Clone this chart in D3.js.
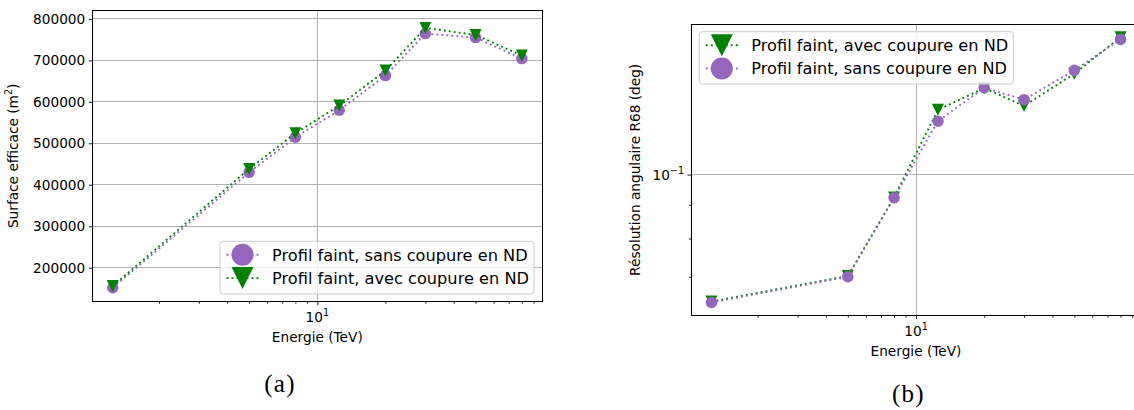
<!DOCTYPE html>
<html>
<head>
<meta charset="utf-8">
<script src="https://cdn.jsdelivr.net/npm/d3@7"></script>
<style>
  body { margin: 0; background: #ffffff; }
  svg { display: block; }
  text { font-family: "DejaVu Sans", sans-serif; fill: #000; }
</style>
</head>
<body>
<svg id="chart" width="1134" height="410"></svg>
<script>
// ---------------- data ----------------
const energies = [1.25, 5, 8, 12.5, 20, 30, 50, 80];          // TeV
const areaSans = [151700, 430000, 514500, 579600, 663300, 764600, 755000, 704300];
const areaAvec = [156000, 438000, 524100, 590900, 675300, 778300, 761400, 711500];
const resAvec  = [0.0642, 0.0702, 0.0923, 0.1254, 0.1352, 0.1271, 0.1422, 0.1615];
const resSans  = [0.0640, 0.0700, 0.0922, 0.1205, 0.1354, 0.1299, 0.1439, 0.1603];
const areaTicks = [200000, 300000, 400000, 500000, 600000, 700000, 800000];
const energyMajorTicks = [10];
const resMajorTicks = [0.1];
const labelSans = "Profil faint, sans coupure en ND";
const labelAvec = "Profil faint, avec coupure en ND";
const xLabel = "Energie (TeV)";
const yLabelA = "Surface efficace (m";
const yLabelB = "Résolution angulaire R68 (deg)";

// ---------------- style ----------------
const PURPLE = "#9467bd", GREEN = "#008000";
const GRID = "#b0b0b0";
const W = 450, H = 291.7;
const MS = 11.5, LMS = 22;
const FS = 13.7, SUP = 9.6, LFS = 16.2;
const svg = d3.select("#chart");

function logMargin(vals, frac) {
  const lo = Math.log10(d3.min(vals)), hi = Math.log10(d3.max(vals));
  const m = (hi - lo) * frac;
  return [Math.pow(10, lo - m), Math.pow(10, hi + m)];
}
function minorLogTicks(domain) {
  const out = [];
  const d0 = Math.floor(Math.log10(domain[0])), d1 = Math.ceil(Math.log10(domain[1]));
  for (let d = d0; d <= d1; d++) {
    for (let k = 2; k <= 9; k++) {
      const v = k * Math.pow(10, d);
      if (v >= domain[0] && v <= domain[1]) out.push(v);
    }
  }
  return out;
}
function triPath(s) {
  const h = s / 2;
  return `M${-h},${-h}L${h},${-h}L0,${h}Z`;
}
function supLabel(sel, base, exp) {
  sel.append("tspan").text(base);
  sel.append("tspan").attr("dy", -6).attr("font-size", SUP).text(exp);
}

function drawPanel(cfg) {
  const g = svg.append("g").attr("transform", `translate(${cfg.left},${cfg.top})`);
  const x = d3.scaleLog().domain(logMargin(energies, 0.05)).range([0, W]);
  const y = cfg.y;

  // grid
  const grid = g.append("g").attr("shape-rendering", "crispEdges");
  grid.selectAll("line.gy").data(cfg.yGrid).join("line")
    .attr("x1", 0).attr("x2", W).attr("y1", d => y(d)).attr("y2", d => y(d))
    .attr("stroke", GRID).attr("stroke-width", 1);
  grid.selectAll("line.gx").data(energyMajorTicks).join("line")
    .attr("x1", d => x(d)).attr("x2", d => x(d)).attr("y1", 0).attr("y2", H)
    .attr("stroke", GRID).attr("stroke-width", 1);

  // series
  const line = (vals) => d3.line().x((d, i) => x(energies[i])).y(d => y(d))(vals);
  cfg.series.forEach(s => {
    g.append("path").attr("d", line(s.values)).attr("fill", "none")
      .attr("stroke", s.color).attr("stroke-width", 1.9)
      .attr("stroke-dasharray", "1.9,3.1");
    const m = g.append("g");
    s.values.forEach((v, i) => {
      if (s.marker === "o") {
        m.append("circle").attr("cx", x(energies[i])).attr("cy", y(v)).attr("r", MS / 2).attr("fill", s.color);
      } else {
        m.append("path").attr("d", triPath(MS + 0.5))
          .attr("transform", `translate(${x(energies[i])},${y(v)})`).attr("fill", s.color);
      }
    });
  });

  // axes
  const xa = g.append("g").attr("transform", `translate(0,${H})`);
  xa.call(d3.axisBottom(x).tickValues(energyMajorTicks).tickSize(3.5).tickPadding(3.5).tickFormat(""));
  xa.append("g").call(d3.axisBottom(x).tickValues(minorLogTicks(x.domain())).tickSize(2).tickFormat(""));
  xa.selectAll("path.domain").remove();
  xa.selectAll("line").attr("stroke", "#000").attr("stroke-width", 0.9);
  energyMajorTicks.forEach(t => {
    const tx = xa.append("text").attr("x", x(t)).attr("y", 19.9).attr("text-anchor", "middle").attr("font-size", FS);
    supLabel(tx, "10", String(Math.round(Math.log10(t))));
  });

  const ya = g.append("g");
  ya.call(cfg.yAxis(y));
  ya.selectAll("path.domain").remove();
  ya.selectAll("line").attr("stroke", "#000").attr("stroke-width", 0.9);
  ya.selectAll("text").attr("font-size", FS).attr("font-family", "DejaVu Sans").attr("fill", "#000");
  if (cfg.yMinor) {
    const ym = g.append("g").call(d3.axisLeft(y).tickValues(cfg.yMinor).tickSize(2).tickFormat(""));
    ym.selectAll("path.domain").remove();
    ym.selectAll("line").attr("stroke", "#000").attr("stroke-width", 0.9);
  }
  if (cfg.yLog) {
    resMajorTicks.forEach(t => {
      const ty = ya.append("text").attr("x", -7).attr("y", y(t) + 5).attr("text-anchor", "end").attr("font-size", FS);
      supLabel(ty, "10", "\u2212" + String(Math.abs(Math.round(Math.log10(t)))));
    });
  }

  // frame
  g.append("rect").attr("x", 0).attr("y", 0).attr("width", W).attr("height", H)
    .attr("fill", "none").attr("stroke", "#000").attr("stroke-width", 1).attr("shape-rendering", "crispEdges");

  // labels
  g.append("text").attr("x", W / 2).attr("y", H + 40).attr("text-anchor", "middle")
    .attr("font-size", FS).text(xLabel);
  const yl = g.append("text").attr("transform", `translate(${cfg.yLabelX},${H / 2}) rotate(-90)`)
    .attr("text-anchor", "middle").attr("font-size", FS);
  cfg.yLabel(yl);

  // legend
  const lg = g.append("g").attr("transform", `translate(${cfg.legend.x},${cfg.legend.y})`);
  lg.append("rect").attr("x", 0).attr("y", 0).attr("width", cfg.legend.w).attr("height", cfg.legend.h)
    .attr("rx", 3).attr("fill", "#fff").attr("fill-opacity", 0.8).attr("stroke", "#cccccc").attr("stroke-width", 1);
  cfg.legendItems.forEach((s, i) => {
    const cy = 13.5 + i * 23.3;
    lg.append("line").attr("x1", 6.5).attr("x2", 38.5).attr("y1", cy).attr("y2", cy)
      .attr("stroke", s.color).attr("stroke-width", 1.9).attr("stroke-dasharray", "1.9,3.1");
    if (s.marker === "o") {
      lg.append("circle").attr("cx", 22.5).attr("cy", cy).attr("r", LMS / 2).attr("fill", s.color);
    } else {
      lg.append("path").attr("d", triPath(LMS)).attr("transform", `translate(22.5,${cy})`).attr("fill", s.color);
    }
    lg.append("text").attr("x", 52).attr("y", cy + 5.8).attr("font-size", LFS).text(s.label);
  });
}

// Panel (a)
const yA = d3.scaleLinear().domain([118000, 821500]).range([H, 0]);
const sA = { color: PURPLE, marker: "o", values: areaSans, label: labelSans };
const aA = { color: GREEN, marker: "v", values: areaAvec, label: labelAvec };
drawPanel({
  left: 92.3, top: 10, y: yA,
  yGrid: areaTicks,
  yAxis: s => d3.axisLeft(s).tickValues(areaTicks).tickSize(3.5).tickPadding(3.5).tickFormat(d3.format("d")),
  yLabelX: -74,
  yLabel: t => {
    t.append("tspan").text(yLabelA);
    t.append("tspan").attr("dy", -6).attr("font-size", SUP).text("2");
    t.append("tspan").attr("dy", 6).text(")");
  },
  series: [sA, aA],
  legendItems: [sA, aA],
  legend: { x: 127.7, y: 231.3, w: 314, h: 52.7 }
});

// Panel (b)
const yB = d3.scaleLog().domain(logMargin(resAvec.concat(resSans), 0.05)).range([H, 0]);
const sB = { color: PURPLE, marker: "o", values: resSans, label: labelSans };
const aB = { color: GREEN, marker: "v", values: resAvec, label: labelAvec };
drawPanel({
  left: 691, top: 24, y: yB, yLog: true,
  yGrid: resMajorTicks,
  yMinor: minorLogTicks(yB.domain()),
  yAxis: s => d3.axisLeft(s).tickValues(resMajorTicks).tickSize(3.5).tickFormat(""),
  yLabelX: -51.5,
  yLabel: t => t.text(yLabelB),
  series: [aB, sB],
  legendItems: [aB, sB],
  legend: { x: 8.3, y: 7.7, w: 314, h: 52.3 }
});

// captions
svg.append("text").attr("x", 280).attr("y", 392).attr("text-anchor", "middle")
  .style("font-family", "'Liberation Serif', 'DejaVu Serif', serif").style("letter-spacing", "1.2px")
  .attr("font-size", 25).text("(a)");
svg.append("text").attr("x", 908.3).attr("y", 402).attr("text-anchor", "middle")
  .style("font-family", "'Liberation Serif', 'DejaVu Serif', serif").style("letter-spacing", "1.2px")
  .attr("font-size", 25).text("(b)");
</script>
</body>
</html>
